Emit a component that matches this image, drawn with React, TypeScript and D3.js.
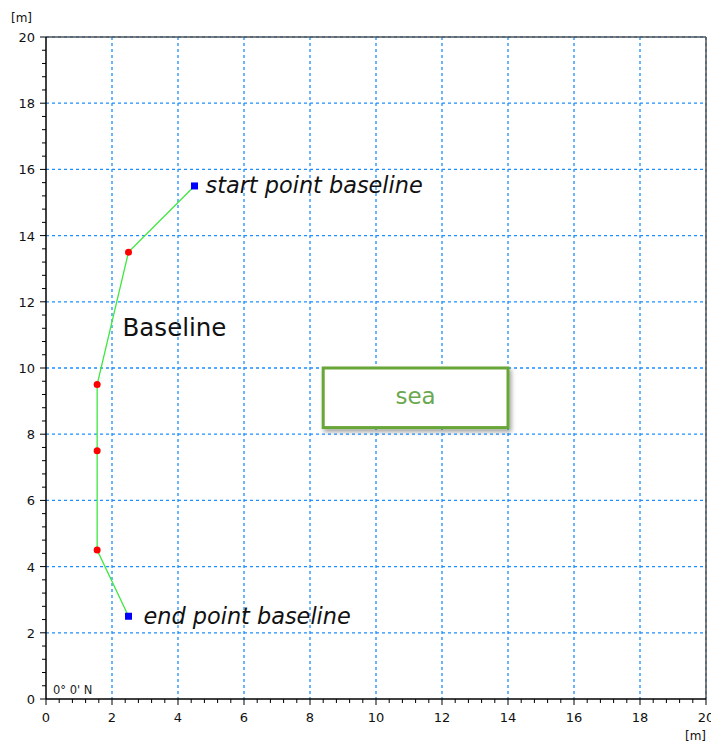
import React from "react";
import * as d3 from "d3";

const xTicks = [0, 2, 4, 6, 8, 10, 12, 14, 16, 18, 20];
const yTicks = [0, 2, 4, 6, 8, 10, 12, 14, 16, 18, 20];
const lineX = [4.5, 2.5, 1.55, 1.55, 1.55, 2.5];
const lineY = [15.5, 13.5, 9.5, 7.5, 4.5, 2.5];
const redIdx = [1, 2, 3, 4];
const blueIdx = [0, 5];
const seaBox = [8.4, 14.0, 8.2, 10.0]; // x0,x1,y0,y1
const labels = ["start point baseline", "end point baseline", "Baseline", "sea"];

export default function App() {
  const W = 711, H = 743;
  const L = 46, R = 706, T = 37, B = 699;
  const x = d3.scaleLinear().domain([0, 20]).range([L, R]);
  const y = d3.scaleLinear().domain([0, 20]).range([B, T]);
  const minor = d3.range(0, 20.001, 0.4);
  const font = "DejaVu Sans, Verdana, sans-serif";
  const pts = lineX.map((v, i) => [x(v), y(lineY[i])] as [number, number]);
  const line = d3.line();
  return (
    <svg width={W} height={H} style={{ position: "absolute", left: 0, top: 0, background: "#fff" }}>
      <defs>
        <filter id="sh" x="-20%" y="-20%" width="150%" height="160%">
          <feDropShadow dx="2" dy="3" stdDeviation="2" floodColor="#000" floodOpacity="0.35" />
        </filter>
      </defs>
      <rect x={0} y={0} width={W} height={H} fill="#fff" />
      {xTicks.slice(1).map((t) => (
        <line key={"gx" + t} x1={x(t)} x2={x(t)} y1={T} y2={B} stroke="#1e8fff" strokeWidth={1.3} strokeDasharray="3,3" />
      ))}
      {yTicks.slice(1).map((t) => (
        <line key={"gy" + t} x1={L} x2={R} y1={y(t)} y2={y(t)} stroke="#1e8fff" strokeWidth={1.3} strokeDasharray="3,3" />
      ))}
      {/* frame */}
      <line x1={L} x2={R} y1={T} y2={T} stroke="#555" strokeWidth={1.5} />
      <line x1={R} x2={R} y1={T} y2={B} stroke="#555" strokeWidth={1.5} />
      <line x1={L} x2={L} y1={T} y2={B} stroke="#000" strokeWidth={1.5} />
      <line x1={L} x2={R} y1={B} y2={B} stroke="#000" strokeWidth={1.5} />
      {minor.map((t, i) => {
        const major = Math.abs(t / 2 - Math.round(t / 2)) < 1e-6;
        return (
          <g key={"m" + i}>
            <line x1={x(t)} x2={x(t)} y1={B} y2={B + (major ? 6 : 4)} stroke="#000" strokeWidth={1} />
            <line x1={L} x2={L - (major ? 6 : 4)} y1={y(t)} y2={y(t)} stroke="#000" strokeWidth={1} />
          </g>
        );
      })}
      {xTicks.map((t) => (
        <text key={"xl" + t} x={x(t)} y={B + 23} textAnchor="middle" fontFamily={font} fontSize={13} fill="#111">
          {t}
        </text>
      ))}
      {yTicks.map((t) => (
        <text key={"yl" + t} x={L - 11} y={y(t) + 5} textAnchor="end" fontFamily={font} fontSize={13} fill="#111">
          {t}
        </text>
      ))}
      <text x={11} y={22} fontFamily={font} fontSize={12} fill="#111">[m]</text>
      <text x={685} y={740} fontFamily={font} fontSize={12} fill="#111">[m]</text>
      <text x={53} y={694} fontFamily={font} fontSize={11.5} fill="#222">0° 0' N</text>
      {/* baseline */}
      <path d={line(pts) || ""} fill="none" stroke="#3ee83e" strokeWidth={1.3} />
      {redIdx.map((i) => (
        <circle key={"r" + i} cx={pts[i][0]} cy={pts[i][1]} r={3.5} fill="#ff0000" />
      ))}
      {blueIdx.map((i) => (
        <rect key={"b" + i} x={pts[i][0] - 3.5} y={pts[i][1] - 3.5} width={7} height={7} fill="#0000ff" />
      ))}
      <text x={x(lineX[0]) + 11} y={y(lineY[0]) + 7} fontFamily={font} fontStyle="italic" fontSize={22.4} fill="#111">
        {labels[0]}
      </text>
      <text x={x(lineX[5]) + 15} y={y(lineY[5]) + 8} fontFamily={font} fontStyle="italic" fontSize={22.4} fill="#111">
        {labels[1]}
      </text>
      <text x={x(2.32)} y={y(10.98)} fontFamily={font} fontSize={24.5} fill="#111">
        {labels[2]}
      </text>
      <rect
        x={x(seaBox[0])}
        y={y(seaBox[3])}
        width={x(seaBox[1]) - x(seaBox[0])}
        height={y(seaBox[2]) - y(seaBox[3])}
        fill="#fff"
        stroke="#67a637"
        strokeWidth={3}
        filter="url(#sh)"
      />
      <text
        x={(x(seaBox[0]) + x(seaBox[1])) / 2}
        y={(y(seaBox[2]) + y(seaBox[3])) / 2 + 6}
        textAnchor="middle"
        fontFamily={font}
        fontSize={23}
        fill="#6aa84f"
      >
        {labels[3]}
      </text>
    </svg>
  );
}
